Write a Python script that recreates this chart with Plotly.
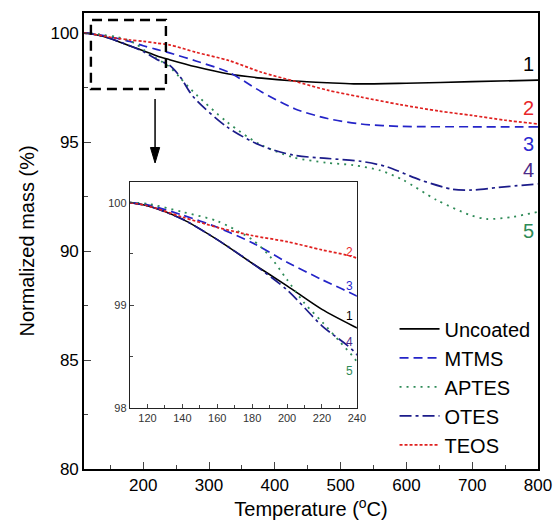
import plotly.graph_objects as go

# ---- data ----
t_unc = [110, 120, 140, 160, 180, 200, 220, 240, 280, 330, 380, 430, 480, 520, 600, 700, 800]
m_unc = [100.0, 99.97, 99.84, 99.64, 99.41, 99.19, 98.96, 98.78, 98.45, 98.12, 97.93, 97.80, 97.72, 97.67, 97.70, 97.77, 97.84]

t_mtms = [110, 120, 140, 160, 180, 200, 220, 240, 280, 330, 380, 430, 480, 530, 590, 700, 800]
m_mtms = [100.0, 99.98, 99.88, 99.76, 99.61, 99.42, 99.25, 99.09, 98.72, 98.20, 97.30, 96.53, 96.08, 95.83, 95.72, 95.70, 95.70]

t_aptes = [110, 120, 140, 160, 180, 190, 200, 210, 220, 230, 240, 256, 276, 327, 377, 428, 479, 519, 560, 595, 646, 697, 722, 762, 800]
m_aptes = [100.0, 99.99, 99.91, 99.82, 99.64, 99.48, 99.25, 99.02, 98.84, 98.65, 98.45, 97.95, 97.31, 95.93, 94.90, 94.30, 94.05, 93.94, 93.70, 93.26, 92.34, 91.65, 91.47, 91.57, 91.80]

t_otes = [110, 120, 140, 160, 180, 200, 220, 240, 256, 276, 327, 377, 428, 479, 530, 570, 621, 671, 700, 740, 800]
m_otes = [100.0, 99.97, 99.84, 99.64, 99.41, 99.15, 98.80, 98.52, 98.00, 97.08, 95.70, 94.86, 94.40, 94.25, 94.12, 93.87, 93.26, 92.83, 92.80, 92.92, 93.08]

t_teos = [110, 120, 140, 160, 180, 200, 220, 240, 280, 330, 380, 430, 480, 530, 590, 650, 700, 750, 800]
m_teos = [100.0, 99.97, 99.86, 99.76, 99.68, 99.62, 99.54, 99.46, 99.12, 98.74, 98.20, 97.79, 97.38, 97.07, 96.72, 96.42, 96.22, 96.00, 95.83]

series_names = ["Uncoated", "MTMS", "APTES", "OTES", "TEOS"]
curve_labels = ["1", "2", "3", "4", "5"]
label_y_main = [98.6, 96.56, 94.9, 93.7, 90.9]
label_y_inset = [98.90, 99.52, 99.19, 98.64, 98.36]

x_ticks_main = [200, 300, 400, 500, 600, 700, 800]
y_ticks_main = [80, 85, 90, 95, 100]
x_ticks_inset = [120, 140, 160, 180, 200, 220, 240]
y_ticks_inset = [98, 99, 100]

# ---- styles ----
styles = {
    "Uncoated": dict(color="#000000", dash="solid", width=1.6),
    "MTMS": dict(color="#2424c8", dash="9px,5px", width=1.7),
    "APTES": dict(color="#2e8b57", dash="2px,5px", width=1.8),
    "OTES": dict(color="#1c1c8a", dash="12px,4px,3px,4px", width=1.7),
    "TEOS": dict(color="#e0201f", dash="3px,2px", width=1.7),
}
data = {
    "Uncoated": (t_unc, m_unc),
    "MTMS": (t_mtms, m_mtms),
    "APTES": (t_aptes, m_aptes),
    "OTES": (t_otes, m_otes),
    "TEOS": (t_teos, m_teos),
}
label_colors = {"1": "#000000", "2": "#e8262a", "3": "#2a2ad0", "4": "#4b2a8a", "5": "#2e8b57"}

fig = go.Figure()
for name in series_names:
    t, m = data[name]
    st = styles[name]
    fig.add_trace(go.Scatter(x=t, y=m, mode="lines", name=name,
                             line=dict(color=st["color"], dash=st["dash"], width=st["width"], shape="spline", smoothing=0.8),
                             xaxis="x", yaxis="y"))
for name in series_names:
    t, m = data[name]
    st = styles[name]
    fig.add_trace(go.Scatter(x=t, y=m, mode="lines", name=name, showlegend=False,
                             line=dict(color=st["color"], dash=st["dash"], width=st["width"], shape="spline", smoothing=0.8),
                             xaxis="x2", yaxis="y2"))

font_family = "Liberation Sans, Arial, sans-serif"

annotations = []
for lab, yv in zip(curve_labels, label_y_main):
    annotations.append(dict(x=785, y=yv, xref="x", yref="y", text=lab, showarrow=False,
                            font=dict(size=20, color=label_colors[lab], family=font_family)))
for lab, yv in zip(curve_labels, label_y_inset):
    annotations.append(dict(x=236, y=yv, xref="x2", yref="y2", text=lab, showarrow=False,
                            font=dict(size=12, color=label_colors[lab], family=font_family)))

# zoom box and arrow from it to the inset
shapes = [
    dict(type="rect", xref="x", yref="y", x0=120.5, x1=234.5, y0=97.43, y1=100.6,
         line=dict(color="#000", width=2.4, dash="10px,6px"), fillcolor="rgba(0,0,0,0)"),
    dict(type="line", xref="x", yref="y", x0=218, x1=218, y0=96.97, y1=94.6,
         line=dict(color="#000", width=1.5)),
    dict(type="path", xref="x", yref="y", path="M 211,94.75 L 225,94.75 L 218,94.04 Z",
         line=dict(color="#000", width=1), fillcolor="#000"),
]

fig.update_layout(
    width=555, height=520,
    margin=dict(l=84, r=17, t=13, b=51),
    paper_bgcolor="white", plot_bgcolor="white",
    font=dict(family=font_family, color="#000", size=17),
    xaxis=dict(range=[110, 800], tickvals=x_ticks_main, ticks="inside", ticklen=7, tickwidth=1.3,
               minor=dict(dtick=50, tick0=100, ticks="inside", ticklen=4, tickwidth=1.2),
               showline=True, linewidth=1.6, linecolor="#000", mirror=True, showgrid=False, zeroline=False,
               title=dict(text="Temperature (<sup>o</sup>C)", font=dict(size=20), standoff=6),
               tickfont=dict(size=17), automargin=False),
    yaxis=dict(range=[80, 100.92], tickvals=y_ticks_main, ticks="inside", ticklen=7, tickwidth=1.3,
               minor=dict(dtick=2.5, tick0=80, ticks="inside", ticklen=4, tickwidth=1.2),
               showline=True, linewidth=1.6, linecolor="#000", mirror=True, showgrid=False, zeroline=False,
               title=dict(text="Normalized mass (%)", font=dict(size=20), standoff=10),
               tickfont=dict(size=17), automargin=False),
    xaxis2=dict(domain=[0.1013, 0.601], anchor="y2", range=[110, 240], tickvals=x_ticks_inset,
                ticks="inside", ticklen=4, tickwidth=1,
                minor=dict(dtick=10, tick0=110, ticks="inside", ticklen=2.5, tickwidth=1),
                showline=True, linewidth=1.4, linecolor="#222", mirror=True, showgrid=False, zeroline=False,
                tickfont=dict(size=11, color="#333"), automargin=False),
    yaxis2=dict(domain=[0.134, 0.629], anchor="x2", range=[98, 100.2], tickvals=y_ticks_inset,
                ticks="inside", ticklen=4, tickwidth=1,
                minor=dict(dtick=0.5, tick0=98, ticks="inside", ticklen=2.5, tickwidth=1),
                showline=True, linewidth=1.4, linecolor="#222", mirror=True, showgrid=False, zeroline=False,
                tickfont=dict(size=11, color="#333"), automargin=False),
    legend=dict(x=0.684, y=0.35, xanchor="left", yanchor="top", bgcolor="rgba(0,0,0,0)",
                font=dict(size=20), tracegroupgap=0, itemwidth=40),
    annotations=annotations,
    shapes=shapes,
    showlegend=True,
)

fig.write_html("out.html", config={"displayModeBar": False},
               post_script="document.body.style.margin='0';document.body.style.overflow='hidden';")
